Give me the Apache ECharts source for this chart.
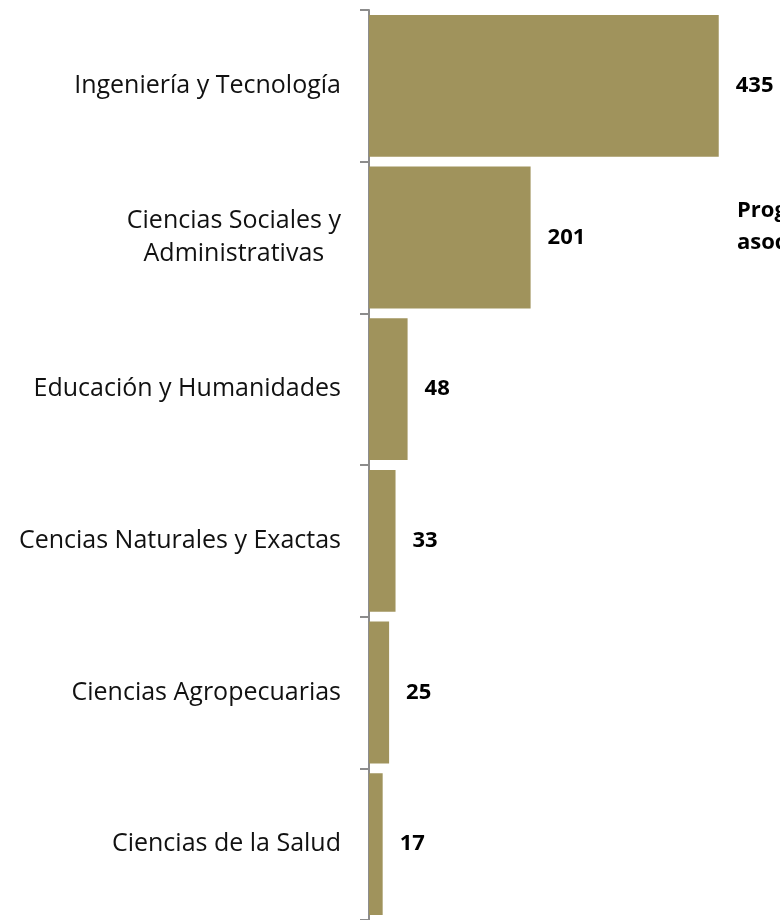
<!DOCTYPE html>
<html>
<head>
<meta charset="utf-8">
<script src="https://cdn.jsdelivr.net/npm/echarts@6/dist/echarts.min.js"></script>
<style>
  html, body { margin: 0; padding: 0; background: #fff; }
  #chart { width: 780px; height: 920px; }
</style>
</head>
<body>
<div id="chart"></div>
<script>
const categories = [
  'Ingeniería y Tecnología',
  'Ciencias Sociales y\nAdministrativas',
  'Educación y Humanidades',
  'Cencias Naturales y Exactas',
  'Ciencias Agropecuarias',
  'Ciencias de la Salud',
]
const values = [435, 201, 48, 33, 25, 17]
const titleText = 'Programas\nasociados'

const chart = echarts.init(document.getElementById('chart'))

// multi-line labels are centred line by line, like the original
function labelFormatter(value) {
  return value.split('\n').map((line) => `{c|${line}}`).join('\n')
}

chart.setOption({
  backgroundColor: '#ffffff',
  animation: false,
  title: {
    text: titleText,
    left: 732,
    top: 190,
    textStyle: { fontFamily: 'Open Sans', fontSize: 22, fontWeight: 'bold', color: '#000', lineHeight: 32 },
  },
  grid: { left: 369, top: 10, width: 402, bottom: -2 },
  xAxis: {
    type: 'value',
    min: 0,
    max: 500,
    show: false,
  },
  yAxis: {
    type: 'category',
    inverse: true,
    data: categories,
    axisLine: { show: true, lineStyle: { color: '#8c8c8c', width: 2 } },
    axisTick: { show: true, inside: false, length: 9, lineStyle: { color: '#8c8c8c', width: 2 } },
    axisLabel: {
      margin: 28,
      fontFamily: 'Open Sans',
      fontSize: 25,
      lineHeight: 33,
      color: '#111',
      align: 'right',
      formatter: labelFormatter,
      rich: {
        c: {
          align: 'center',
          fontFamily: 'Open Sans',
          fontSize: 25,
          lineHeight: 33,
          color: '#111',
        },
      },
    },
    splitLine: { show: false },
  },
  series: [
    {
      type: 'bar',
      data: values,
      barCategoryGap: '6.5%',
      itemStyle: { color: '#a0935c' },
      label: {
        show: true,
        position: 'right',
        distance: 17,
        fontFamily: 'Open Sans',
        fontSize: 22,
        fontWeight: 'bold',
        color: '#000',
      },
    },
  ],
})
</script>
</body>
</html>
